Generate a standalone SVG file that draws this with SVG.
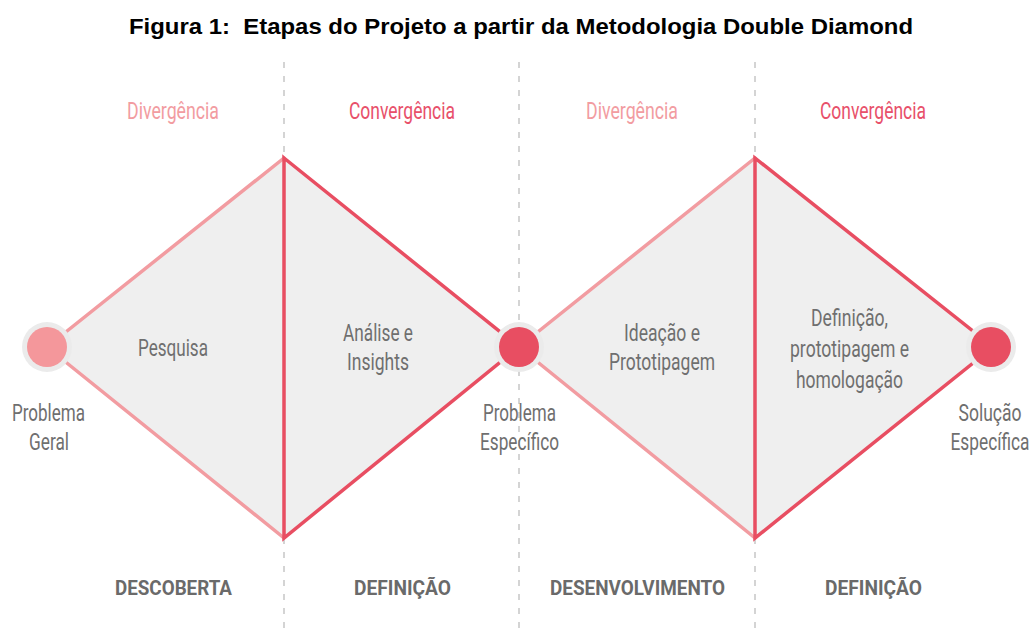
<svg xmlns="http://www.w3.org/2000/svg" width="1035" height="633" viewBox="0 0 1035 633">
<style>
.t{font-family:Roboto,"DejaVu Sans",sans-serif;text-anchor:middle}
.title{font-family:"Liberation Sans",Arial,sans-serif;font-weight:bold;font-size:22px;fill:#000;text-anchor:middle;white-space:pre}
.head{font-size:24px}
.div{fill:#f29ca1}
.conv{fill:#e8506a}
.lbl{font-size:23px;fill:#6f6f6f}
.stage{font-size:21px;font-weight:bold;fill:#6a6a6a}
.sep{stroke:#d4d4d4;stroke-width:2;stroke-dasharray:6 8;fill:none}
.fill{fill:#efefef;stroke:none}
.lp{stroke:#f29ca1;stroke-width:3.5;fill:none;stroke-linecap:round}
.dr{stroke:#e84e62;stroke-width:3.5;fill:none;stroke-linecap:round;stroke-linejoin:miter}
.ring{fill:#ebebeb}
</style>
<text class="title" x="521" y="34" textLength="784" lengthAdjust="spacingAndGlyphs" xml:space="preserve">Figura 1:  Etapas do Projeto a partir da Metodologia Double Diamond</text>
<g id="separators">
<line class="sep" x1="284" y1="62" x2="284" y2="633"/>
<line class="sep" x1="519" y1="62" x2="519" y2="633"/>
<line class="sep" x1="755" y1="62" x2="755" y2="633"/>
</g>
<g id="diamond1">
<polygon class="fill" points="47,347 284,158 519,347 284,538"/>
</g>
<g id="diamond2">
<polygon class="fill" points="519,347 755,158 993,347 755,538"/>
</g>
<g id="connectors">
<polyline class="lp" points="47,347 284,158"/>
<polyline class="lp" points="47,347 284,538"/>
<polygon class="dr" points="284,158 519,347 284,538"/>
<polyline class="lp" points="519,347 755,158"/>
<polyline class="lp" points="519,347 755,538"/>
<polygon class="dr" points="755,158 993,347 755,538"/>
</g>
<g id="node-problema-geral">
<circle class="ring" cx="47" cy="347" r="25"/>
<circle cx="47" cy="347" r="20" fill="#f4979b"/>
<text class="t lbl" x="48.5" y="421" textLength="73" lengthAdjust="spacingAndGlyphs">Problema</text>
<text class="t lbl" x="49" y="450" textLength="40" lengthAdjust="spacingAndGlyphs">Geral</text>
</g>
<g id="node-problema-especifico">
<circle class="ring" cx="519" cy="347" r="25"/>
<circle cx="519" cy="347" r="20" fill="#e84e62"/>
<text class="t lbl" x="519.5" y="421" textLength="73" lengthAdjust="spacingAndGlyphs">Problema</text>
<text class="t lbl" x="519.5" y="450" textLength="79" lengthAdjust="spacingAndGlyphs">Específico</text>
</g>
<g id="node-solucao">
<circle class="ring" cx="991" cy="347" r="25"/>
<circle cx="991" cy="347" r="20" fill="#e84e62"/>
<text class="t lbl" x="990" y="421" textLength="63" lengthAdjust="spacingAndGlyphs">Solução</text>
<text class="t lbl" x="990" y="450" textLength="79" lengthAdjust="spacingAndGlyphs">Específica</text>
</g>
<g id="labels-inner">
<text class="t lbl" x="173" y="356" textLength="70" lengthAdjust="spacingAndGlyphs">Pesquisa</text>
<text class="t lbl" x="378" y="341" textLength="70" lengthAdjust="spacingAndGlyphs">Análise e</text>
<text class="t lbl" x="378" y="370" textLength="62" lengthAdjust="spacingAndGlyphs">Insights</text>
<text class="t lbl" x="662" y="341" textLength="76" lengthAdjust="spacingAndGlyphs">Ideação e</text>
<text class="t lbl" x="662" y="370" textLength="106" lengthAdjust="spacingAndGlyphs">Prototipagem</text>
<text class="t lbl" x="849.5" y="326" textLength="77" lengthAdjust="spacingAndGlyphs">Definição,</text>
<text class="t lbl" x="849.5" y="357" textLength="119" lengthAdjust="spacingAndGlyphs">prototipagem e</text>
<text class="t lbl" x="849.5" y="388" textLength="107" lengthAdjust="spacingAndGlyphs">homologação</text>
</g>
<g id="headers">
<text class="t head div" x="173" y="119" textLength="92" lengthAdjust="spacingAndGlyphs">Divergência</text>
<text class="t head conv" x="402" y="119" textLength="106" lengthAdjust="spacingAndGlyphs">Convergência</text>
<text class="t head div" x="632" y="119" textLength="92" lengthAdjust="spacingAndGlyphs">Divergência</text>
<text class="t head conv" x="873" y="119" textLength="106" lengthAdjust="spacingAndGlyphs">Convergência</text>
</g>
<g id="stages">
<text class="t stage" x="173.5" y="595" textLength="117" lengthAdjust="spacingAndGlyphs">DESCOBERTA</text>
<text class="t stage" x="402.5" y="595" textLength="97" lengthAdjust="spacingAndGlyphs">DEFINIÇÃO</text>
<text class="t stage" x="637.5" y="595" textLength="175" lengthAdjust="spacingAndGlyphs">DESENVOLVIMENTO</text>
<text class="t stage" x="873.5" y="595" textLength="97" lengthAdjust="spacingAndGlyphs">DEFINIÇÃO</text>
</g>
</svg>
